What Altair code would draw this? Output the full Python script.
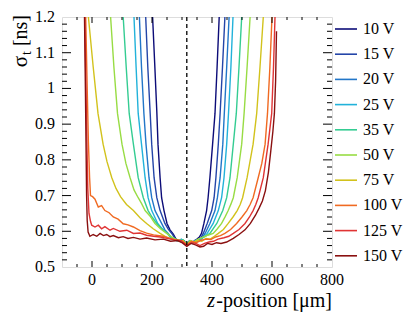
import altair as alt
import pandas as pd

FONT = "'Liberation Serif', 'Times New Roman', Times, 'DejaVu Serif', serif"

voltages = ["10 V", "15 V", "20 V", "25 V", "35 V", "50 V", "75 V", "100 V", "125 V", "150 V"]
colors = ["#0c0c78", "#2445a8", "#2276c8", "#22b2da", "#34cc92", "#98dc44", "#d2c21c",
          "#f06a22", "#e03434", "#8a1010"]

z_10 = [196, 202, 209, 216, 220, 227, 232, 240, 250, 260, 271, 280, 290, 299, 308, 316, 324, 333, 342, 350, 358, 365, 373, 382, 387, 393, 402, 410, 417, 424, 429]
s_10 = [1.30, 1.20, 1.07, 0.936, 0.844, 0.75, 0.694, 0.658, 0.622, 0.604, 0.592, 0.578, 0.572, 0.576, 0.568, 0.561, 0.572, 0.567, 0.574, 0.578, 0.584, 0.594, 0.622, 0.658, 0.694, 0.75, 0.844, 0.93, 1.06, 1.20, 1.30]

z_15 = [174, 179, 186, 194, 199, 207, 216, 227, 243, 254, 266, 278, 288, 298, 308, 316, 324, 334, 344, 354, 362, 371, 384, 399, 407, 413, 421, 427, 435, 443, 448]
s_15 = [1.30, 1.20, 1.06, 0.93, 0.844, 0.75, 0.694, 0.658, 0.622, 0.606, 0.594, 0.578, 0.574, 0.57, 0.573, 0.561, 0.57, 0.566, 0.572, 0.576, 0.58, 0.594, 0.622, 0.658, 0.694, 0.75, 0.844, 0.93, 1.06, 1.20, 1.30]

z_20 = [153, 158, 165, 173, 180, 190, 199, 210, 232, 243, 254, 266, 278, 290, 300, 308, 316, 324, 334, 344, 354, 366, 377, 393, 410, 418, 427, 436, 441, 449, 457, 462]
s_20 = [1.30, 1.20, 1.06, 0.93, 0.844, 0.75, 0.694, 0.658, 0.622, 0.604, 0.594, 0.58, 0.575, 0.572, 0.576, 0.568, 0.56, 0.57, 0.567, 0.574, 0.572, 0.58, 0.594, 0.622, 0.658, 0.694, 0.75, 0.844, 0.93, 1.06, 1.20, 1.30]

z_25 = [135, 140, 147, 154, 165, 177, 187, 199, 219, 235, 251, 262, 274, 286, 298, 308, 316, 324, 334, 346, 358, 370, 384, 404, 421, 432, 440, 449, 455, 463, 470, 475]
s_25 = [1.30, 1.20, 1.06, 0.93, 0.844, 0.75, 0.694, 0.658, 0.622, 0.606, 0.594, 0.582, 0.576, 0.573, 0.578, 0.57, 0.562, 0.572, 0.566, 0.575, 0.574, 0.582, 0.594, 0.622, 0.658, 0.694, 0.75, 0.844, 0.93, 1.06, 1.20, 1.30]

z_35 = [97, 104, 114, 124, 138, 154, 171, 187, 200, 216, 234, 252, 266, 280, 292, 304, 316, 326, 338, 350, 362, 378, 393, 416, 436, 449, 460, 471, 481, 490, 499, 505]
s_35 = [1.30, 1.20, 1.06, 0.93, 0.844, 0.75, 0.694, 0.658, 0.64, 0.622, 0.606, 0.594, 0.582, 0.578, 0.574, 0.576, 0.563, 0.574, 0.569, 0.576, 0.58, 0.586, 0.594, 0.622, 0.658, 0.694, 0.75, 0.844, 0.93, 1.06, 1.20, 1.30]

z_50 = [54, 62, 73, 85, 100, 113, 127, 140, 154, 165, 177, 193, 210, 228, 249, 264, 278, 292, 304, 316, 328, 340, 354, 368, 386, 404, 418, 432, 444, 454, 463, 471, 484, 499, 507, 517, 527, 533]
s_50 = [1.30, 1.20, 1.06, 0.93, 0.844, 0.79, 0.75, 0.716, 0.694, 0.678, 0.658, 0.643, 0.622, 0.607, 0.594, 0.585, 0.578, 0.575, 0.572, 0.562, 0.574, 0.57, 0.578, 0.583, 0.589, 0.594, 0.607, 0.622, 0.641, 0.658, 0.676, 0.694, 0.75, 0.844, 0.93, 1.06, 1.20, 1.30]

z_75 = [-24, -12, 4, 20, 37, 50, 66, 80, 95, 115, 138, 160, 182, 204, 227, 245, 262, 278, 292, 304, 316, 328, 340, 352, 366, 380, 394, 408, 421, 438, 454, 470, 484, 494, 502, 517, 537, 549, 560, 571, 577]
s_75 = [1.30, 1.20, 1.06, 0.93, 0.844, 0.795, 0.75, 0.72, 0.697, 0.675, 0.658, 0.638, 0.622, 0.607, 0.594, 0.585, 0.579, 0.576, 0.572, 0.574, 0.562, 0.572, 0.568, 0.575, 0.572, 0.58, 0.578, 0.586, 0.594, 0.605, 0.622, 0.64, 0.658, 0.675, 0.694, 0.75, 0.844, 0.93, 1.06, 1.20, 1.30]

z_100 = [-25, -21, -16, -12, -8, -5, 2, 10, 21, 32, 43, 57, 71, 87, 104, 120, 138, 160, 182, 205, 237, 260, 280, 298, 316, 332, 348, 364, 380, 396, 412, 428, 443, 462, 482, 500, 516, 527, 537, 554, 566, 577, 585, 593, 600, 604]
s_100 = [1.30, 1.20, 1.00, 0.85, 0.75, 0.70, 0.697, 0.69, 0.668, 0.672, 0.658, 0.652, 0.64, 0.634, 0.621, 0.618, 0.612, 0.602, 0.595, 0.59, 0.586, 0.58, 0.576, 0.574, 0.562, 0.572, 0.568, 0.575, 0.578, 0.577, 0.584, 0.588, 0.594, 0.605, 0.622, 0.64, 0.658, 0.675, 0.694, 0.75, 0.79, 0.844, 0.93, 1.06, 1.20, 1.30]

z_125 = [-28, -24, -20, -17, -14, -10, -5, -1, 10, 21, 32, 43, 60, 71, 93, 116, 138, 160, 182, 205, 227, 250, 275, 298, 316, 332, 346, 360, 375, 390, 405, 420, 440, 456, 471, 490, 510, 525, 537, 546, 554, 571, 587, 599, 605, 610, 613]
s_125 = [1.30, 1.20, 1.00, 0.85, 0.72, 0.65, 0.628, 0.617, 0.612, 0.617, 0.607, 0.613, 0.603, 0.608, 0.6, 0.603, 0.594, 0.595, 0.589, 0.586, 0.584, 0.58, 0.576, 0.574, 0.56, 0.568, 0.566, 0.56, 0.566, 0.57, 0.572, 0.578, 0.582, 0.586, 0.594, 0.605, 0.622, 0.64, 0.658, 0.675, 0.694, 0.75, 0.844, 0.93, 1.06, 1.20, 1.30]

z_150 = [-30, -25, -22, -20, -18, -16, -13, -7, 4, 16, 27, 38, 49, 60, 71, 88, 104, 120, 138, 160, 182, 210, 238, 262, 285, 300, 316, 330, 345, 360, 372, 385, 400, 415, 430, 449, 471, 490, 510, 528, 545, 557, 568, 578, 588, 596, 603, 608, 612, 615]
s_150 = [1.30, 1.20, 1.00, 0.85, 0.70, 0.63, 0.598, 0.586, 0.591, 0.586, 0.594, 0.588, 0.591, 0.585, 0.588, 0.582, 0.585, 0.58, 0.583, 0.578, 0.581, 0.576, 0.578, 0.572, 0.574, 0.568, 0.558, 0.566, 0.562, 0.556, 0.558, 0.566, 0.563, 0.568, 0.566, 0.57, 0.58, 0.591, 0.604, 0.622, 0.645, 0.665, 0.685, 0.714, 0.765, 0.825, 0.88, 0.93, 1.02, 1.16]

z_lists = [z_10, z_15, z_20, z_25, z_35, z_50, z_75, z_100, z_125, z_150]
s_lists = [s_10, s_15, s_20, s_25, s_35, s_50, s_75, s_100, s_125, s_150]

x_labels = [0, 200, 400, 600, 800]
x_major = [0, 200, 400, 600]
x_minor = [-50, 50, 100, 150, 250, 300, 350, 450, 500, 550, 650, 700, 750]
y_labels = [0.5, 0.6, 0.7, 0.8, 0.9, 1.0, 1.1, 1.2]
y_label_text = ["0.5", "0.6", "0.7", "0.8", "0.9", "1", "1.1", "1.2"]
y_major = [0.6, 0.7, 0.8, 0.9, 1.0, 1.1]
y_minor = [0.52, 0.54, 0.56, 0.58, 0.62, 0.64, 0.66, 0.68, 0.72, 0.74, 0.76, 0.78,
           0.82, 0.84, 0.86, 0.88, 0.92, 0.94, 0.96, 0.98, 1.02, 1.04, 1.06, 1.08,
           1.12, 1.14, 1.16, 1.18]
dashed_z = [316]

rows = []
for lab, zs, ss in zip(voltages, z_lists, s_lists):
    for z, s in zip(zs, ss):
        rows.append({"V": lab, "z": z, "s": s})
df = pd.DataFrame(rows)

W, H = 270, 250
xs = alt.Scale(domain=[-100, 800], nice=False, zero=False)
ys = alt.Scale(domain=[0.5, 1.2], nice=False, zero=False)

lines = alt.Chart(df).mark_line(clip=True, strokeWidth=1.4).encode(
    x=alt.X("z:Q", scale=xs, axis=None),
    y=alt.Y("s:Q", scale=ys, axis=None),
    color=alt.Color("V:N", sort=voltages, scale=alt.Scale(domain=voltages, range=colors),
                    legend=alt.Legend(title=None, orient="none", legendX=272, legendY=0,
                                      symbolType="stroke", symbolSize=484, symbolStrokeWidth=1.6,
                                      labelFont=FONT, labelFontSize=16, labelColor="black",
                                      rowPadding=5.2, labelOffset=5, padding=0)),
)


def xticks(vals, y0, y1):
    return alt.Chart(pd.DataFrame({"z": vals})).mark_rule(color="black", strokeWidth=1).encode(
        x=alt.X("z:Q", scale=xs, axis=None), y=alt.value(y0), y2=alt.value(y1))


def yticks(vals, x0, x1):
    return alt.Chart(pd.DataFrame({"s": vals})).mark_rule(color="black", strokeWidth=1).encode(
        y=alt.Y("s:Q", scale=ys, axis=None), x=alt.value(x0), x2=alt.value(x1))


ticks = [
    xticks(x_major, H, H - 6), xticks(x_minor, H, H - 3),
    xticks(x_major, 0, 6), xticks(x_minor, 0, 3),
    yticks(y_major, 0, 9), yticks(y_minor, 0, 5),
    yticks(y_major, W, W - 9), yticks(y_minor, W, W - 5),
]

# tick labels drawn as text marks positioned through the shared scales
xlab = alt.Chart(pd.DataFrame({"z": x_labels, "t": [str(v) for v in x_labels]})).mark_text(
    font=FONT, fontSize=16, color="black", baseline="top", align="center").encode(
    x=alt.X("z:Q", scale=xs, axis=None), y=alt.value(H + 5), text="t:N")
ylab = alt.Chart(pd.DataFrame({"s": y_labels, "t": y_label_text})).mark_text(
    font=FONT, fontSize=16, color="black", baseline="middle", align="right").encode(
    y=alt.Y("s:Q", scale=ys, axis=None), x=alt.value(-7), text="t:N")

dashed = alt.Chart(pd.DataFrame({"z": dashed_z})).mark_rule(
    color="black", strokeWidth=1.3, strokeDash=[4, 3]).encode(x=alt.X("z:Q", scale=xs, axis=None))


def txt(text, x, y, size, angle=0, align="left", style="normal"):
    return alt.Chart(alt.Data(values=[{"a": 1}])).mark_text(
        text=text, font=FONT, fontSize=size, angle=angle, align=align, baseline="alphabetic",
        fontStyle=style, color="black").encode(x=alt.value(x), y=alt.value(y))


titles = [
    txt("-position [μm]", W, H + 40, 20, align="right"),
    txt("z", W - 117, H + 40, 20, align="right", style="italic"),
    txt("[ns]", -35, -2, 20, angle=270, align="right"),
    txt("t", -31, 34, 14, angle=270, align="right"),
    txt("σ", -35, 39, 21, angle=270, align="right"),
]

chart = alt.layer(lines, dashed, *ticks, xlab, ylab, *titles).properties(
    width=W, height=H,
    padding={"left": 54, "top": 9, "right": 75, "bottom": 48},
    autosize=alt.AutoSizeParams(type="none"),
).configure_view(stroke="black", strokeWidth=1.6).configure(font=FONT)

chart.save("out.html", embed_options={"renderer": "svg", "actions": False})
